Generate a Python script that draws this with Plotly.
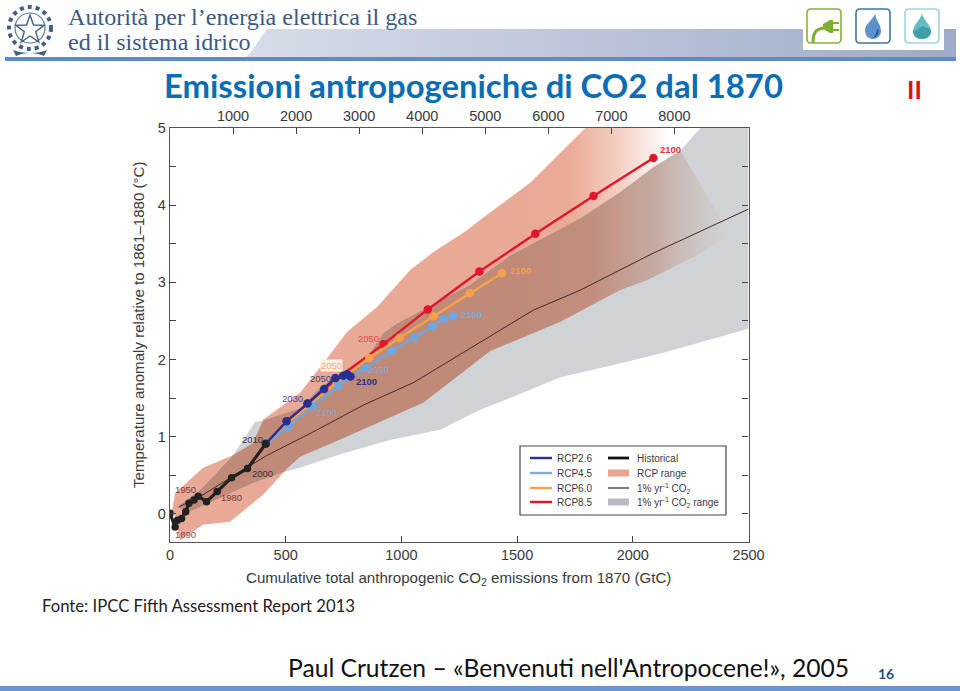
import plotly.graph_objects as go

# ---------- data (GtC, deg C) ----------
hist_x = [0, 22, 32, 50, 68, 82, 104, 122, 158, 204, 266, 335, 414]
hist_y = [0.01, -0.17, -0.08, -0.06, 0.03, 0.14, 0.18, 0.23, 0.16, 0.29, 0.47, 0.59, 0.91]
rcp26_x = [414, 504, 594, 666, 715, 748, 765, 780]
rcp26_y = [0.91, 1.20, 1.43, 1.62, 1.76, 1.79, 1.81, 1.78]
rcp45_x = [414, 511, 619, 727, 843, 959, 1057, 1135, 1182, 1225]
rcp45_y = [0.91, 1.13, 1.40, 1.66, 1.89, 2.11, 2.29, 2.43, 2.53, 2.56]
rcp60_x = [414, 505, 600, 720, 861, 992, 1139, 1295, 1435]
rcp60_y = [0.91, 1.17, 1.40, 1.70, 2.02, 2.28, 2.56, 2.86, 3.12]
rcp85_x = [414, 504, 595, 715, 923, 1114, 1337, 1579, 1830, 2089]
rcp85_y = [0.91, 1.20, 1.43, 1.74, 2.20, 2.65, 3.14, 3.63, 4.12, 4.61]
co2_x = [38, 143, 337, 420, 636, 835, 1051, 1297, 1570, 1773, 2089, 2500]
co2_y = [0.09, 0.25, 0.61, 0.76, 1.09, 1.41, 1.70, 2.15, 2.64, 2.90, 3.38, 3.95]

rcp_range_x = [9, 22, 95, 143, 272, 359, 402, 562, 649, 766, 895, 1038, 1137, 1285, 1341, 1557, 1687, 1795,
               2140, 2422, 2262, 2063, 1946, 1687, 1384, 1094, 865, 748, 562, 489, 402, 260, 143, 43, 22, 9]
rcp_range_y = [0.05, 0.27, 0.47, 0.60, 0.76, 0.92, 1.22, 1.57, 1.90, 2.36, 2.68, 3.16, 3.39, 3.68, 3.81, 4.29, 4.68, 5.0,
               5.0, 3.61, 3.33, 3.03, 2.90, 2.49, 2.11, 1.44, 1.13, 0.98, 0.74, 0.53, 0.25, -0.10, -0.14, -0.34, -0.04, 0.05]
co2_range_x = [30, 130, 281, 368, 402, 562, 649, 778, 865, 921, 982, 1297, 1471, 1773, 1946, 2089, 2206, 2292, 2500,
               2500, 2132, 1916, 1687, 1483, 1341, 1168, 951, 722, 562, 489, 359, 86, 30]
co2_range_y = [0.09, 0.31, 0.80, 1.19, 1.21, 1.37, 1.64, 1.90, 2.08, 2.34, 2.47, 2.97, 3.35, 3.83, 4.17, 4.49, 4.71, 5.0, 5.0,
               2.40, 2.09, 1.93, 1.77, 1.52, 1.35, 1.09, 0.96, 0.76, 0.60, 0.54, 0.40, 0.03, 0.09]
overlap_x = [30, 130, 272, 359, 402, 562, 649, 778, 865, 921, 982, 1297, 1471, 1773, 1946, 2089, 2206,
             2422, 2262, 2063, 1946, 1687, 1384, 1094, 865, 748, 562, 489, 359, 86, 30]
overlap_y = [0.09, 0.31, 0.76, 0.92, 1.21, 1.37, 1.64, 1.90, 2.08, 2.34, 2.47, 2.97, 3.35, 3.83, 4.17, 4.49, 4.71,
             3.61, 3.33, 3.03, 2.90, 2.49, 2.11, 1.44, 1.13, 0.98, 0.74, 0.54, 0.40, 0.03, 0.09]

year_labels = [
    ("1890", 69, -0.26, "#8a4a4a", False), ("1950", 65, 0.32, "#7a3a3a", False),
    ("1980", 264, 0.22, "#7a3a3a", False), ("2000", 398, 0.53, "#333333", False),
    ("2010", 355, 0.97, "#333333", False), ("2030", 528, 1.50, "#4a3f95", False),
    ("2050", 650, 1.76, "#4a3f7d", False),
    ("2100", 848, 1.71, "#2b2f8f", True), ("2100", 675, 1.32, "#7fa9de", False),
    ("2050", 900, 1.87, "#7fa9de", False), ("2050", 856, 2.27, "#e8464a", False),
    ("2100", 2162, 4.72, "#e3303f", True), ("2100", 1514, 3.16, "#f5a04a", True),
    ("2100", 1302, 2.58, "#7fa9de", True),
]
x_ticks = [0, 500, 1000, 1500, 2000, 2500]
y_ticks = [0, 1, 2, 3, 4, 5]
top_ticks = [1000, 2000, 3000, 4000, 5000, 6000, 7000, 8000]
legend_left = [("RCP2.6", "#2b2f8f"), ("RCP4.5", "#7fa9de"), ("RCP6.0", "#f5a04a"), ("RCP8.5", "#e3152b")]

NAVY, BLUE, ORANGE, RED, BLACK = "#2b2f8f", "#6ea6e0", "#f5a04a", "#e3152b", "#222222"
SANS = "Liberation Sans"
TXT = "#3a3a3a"

fig = go.Figure()

# ranges
fig.add_trace(go.Scatter(x=rcp_range_x, y=rcp_range_y, mode="lines", line=dict(width=0), fill="toself",
    fillgradient=dict(type="horizontal", start=1500, stop=2160,
        colorscale=[[0, "rgba(232,170,150,1)"], [0.35, "rgba(234,172,152,1)"], [0.65, "rgba(243,205,192,1)"], [1, "rgba(255,255,255,1)"]]),
    hoverinfo="skip", showlegend=False))
fig.add_trace(go.Scatter(x=co2_range_x, y=co2_range_y, mode="lines", line=dict(width=0), fill="toself",
    fillcolor="#cfd3d6", hoverinfo="skip", showlegend=False))
fig.add_trace(go.Scatter(x=overlap_x, y=overlap_y, mode="lines", line=dict(width=0), fill="toself",
    fillgradient=dict(type="horizontal", start=1500, stop=2430,
        colorscale=[[0, "rgba(192,138,120,1)"], [0.35, "rgba(192,138,122,0.94)"], [0.65, "rgba(192,146,130,0.62)"], [1, "rgba(200,180,170,0)"]]),
    hoverinfo="skip", showlegend=False))
fig.add_trace(go.Scatter(x=co2_x, y=co2_y, mode="lines", line=dict(color="#4a2a22", width=1),
    hoverinfo="skip", showlegend=False))

for xs, ys, c, name in [(rcp85_x, rcp85_y, RED, "RCP8.5"), (rcp60_x, rcp60_y, ORANGE, "RCP6.0"),
                        (rcp45_x, rcp45_y, BLUE, "RCP4.5"), (rcp26_x, rcp26_y, NAVY, "RCP2.6")]:
    fig.add_trace(go.Scatter(x=xs, y=ys, mode="lines+markers", name=name, showlegend=False,
                             line=dict(color=c, width=2.4), marker=dict(color=c, size=8.5)))
fig.add_trace(go.Scatter(x=hist_x, y=hist_y, mode="lines+markers", name="Historical", showlegend=False,
                         line=dict(color=BLACK, width=3.2), marker=dict(color=BLACK, size=7.5)))

# invisible trace so that the top axis exists
fig.add_trace(go.Scatter(x=top_ticks, y=[None] * len(top_ticks), xaxis="x2", yaxis="y", showlegend=False, hoverinfo="skip"))


def T(text, x, y, size=12, color=TXT, family=SANS, xa="left", ya="middle", **kw):
    fig.add_annotation(text=text, x=x, y=y, xref="x3", yref="y3", showarrow=False, xanchor=xa, yanchor=ya,
                       font=dict(size=size, color=color, family=family), **kw)


def P(path, fill="rgba(0,0,0,0)", line="rgba(0,0,0,0)", w=1, **kw):
    fig.add_shape(type="path", path=path, xref="x3", yref="y3", fillcolor=fill, line=dict(color=line, width=w), layer="above", **kw)


def R(x0, y0, x1, y1, fill="rgba(0,0,0,0)", line="rgba(0,0,0,0)", w=0):
    fig.add_shape(type="rect", x0=x0, y0=y0, x1=x1, y1=y1, xref="x3", yref="y3", fillcolor=fill,
                  line=dict(color=line, width=w), layer="above")


# header band with gradient (page-pixel overlay axes)
fig.add_trace(go.Scatter(x=[247, 267, 956, 956, 247], y=[57, 29, 29, 57, 57], xaxis="x3", yaxis="y3", mode="lines",
    line=dict(width=0), fill="toself", hoverinfo="skip", showlegend=False,
    fillgradient=dict(type="horizontal", start=247, stop=956, colorscale=[[0, "#d8dce8"], [1, "#9dabca"]])))
R(5, 57, 956, 61, fill="#5b8bc8")
R(803, 0, 944, 50, fill="white")
R(0, 686, 960, 691, fill="#6a96cf")

# icons
P("M 811 9 L 837 9 Q 841 9 841 13 L 841 39 Q 841 43 837 43 L 811 43 Q 807 43 807 39 L 807 13 Q 807 9 811 9 Z", fill="white", line="#84b53a", w=1.6)
P("M 813 43 C 813 32 816 29 824 28", line="#7cb02e", w=3)
P("M 823 24 L 830 20 L 833 20 L 833 33 L 830 33 L 823 29 Z", fill="#7cb02e")
R(833, 22, 839, 24, fill="#7cb02e")
R(833, 29, 839, 31, fill="#7cb02e")
P("M 860 9 L 886 9 Q 890 9 890 13 L 890 39 Q 890 43 886 43 L 860 43 Q 856 43 856 39 L 856 13 Q 856 9 860 9 Z", fill="white", line="#3f76a8", w=1.6)
P("M 875 14 C 877 22 881 25 881 31 C 881 36 877 39 873 39 C 868 39 865 35 865 30 C 865 24 872 21 875 14 Z", fill="#5d92cf")
P("M 878 28 C 880 33 877 37 873 38 C 876 35 876 32 878 28 Z", fill="#1f5f9e")
P("M 909 9 L 935 9 Q 939 9 939 13 L 939 39 Q 939 43 935 43 L 909 43 Q 905 43 905 39 L 905 13 Q 905 9 909 9 Z", fill="white", line="#9fd6dc", w=1.6)
P("M 922 14 C 925 21 931 26 931 31 C 931 36 927 39 922 39 C 917 39 913 36 913 31 C 913 26 919 21 922 14 Z", fill="#62bcc6")
P("M 922 26 C 928 28 931 29 931 31 C 931 36 927 39 922 39 C 917 39 913 36 913 31 C 915 31 919 29 922 26 Z", fill="#3f9fa9")

# emblem
fig.add_shape(type="circle", x0=9, y0=7, x1=51, y1=49, xref="x3", yref="y3", line=dict(color="#3f5f85", width=4, dash="dot"), layer="above")
fig.add_shape(type="circle", x0=15, y0=13, x1=45, y1=43, xref="x3", yref="y3", line=dict(color="#5f7a9c", width=1.2), layer="above")
P("M 30 15 L 33.5 25 L 44 25.4 L 35.7 31.8 L 38.8 42 L 30 36 L 21.2 42 L 24.3 31.8 L 16 25.4 L 26.5 25 Z", line="#3f5f85", w=1.4)
P("M 13 50 C 22 54 38 54 47 50 L 44 56 C 36 52 24 52 16 56 Z", fill="#3f5f85")

T("Autorità per l’energia elettrica il gas", 66, 17, size=24.1, color="#3a5a85", family="Liberation Serif")
T("ed il sistema idrico", 66, 42, size=24.1, color="#3a5a85", family="Liberation Serif")
T("<b>Emissioni antropogeniche di CO2 dal 1870</b>", 162, 85.5, size=32.85, color="#0b6db5", family="Lato")
T("<b>II</b>", 914, 89, size=25, color="#e01010", family="Lato", xa="center")
T("Fonte: IPCC Fifth Assessment Report 2013", 40, 606, size=16.7, color="#222222", family="Lato")
T("Paul Crutzen – «Benvenuti nell'Antropocene!», 2005", 286, 667, size=24.65, color="#111111", family="Lato")
T("<b>16</b>", 886, 673, size=14, color="#1f4e80", family="Lato", xa="center")

# axis titles placed exactly
T("Cumulative total anthropogenic CO<sub>2</sub> emissions from 1870 (GtC)", 458, 578, size=15.1, xa="center")
T("Temperature anomaly relative to 1861–1880 (°C)", 138, 325, size=15.1, xa="center", textangle=-90)

# year labels
for txt, x, y, c, bold in year_labels:
    fig.add_annotation(text=f"<b>{txt}</b>" if bold else txt, x=x, y=y, xref="x", yref="y", showarrow=False,
                       font=dict(size=9.5, color=c, family=SANS))
# the boxed 2050 label of RCP6.0
fig.add_annotation(text="2050", x=700, y=1.93, xref="x", yref="y", showarrow=False, bgcolor="#fdf1e4", borderpad=0,
                   font=dict(size=9.5, color="#f7a868", family=SANS))

# legend drawn as in the figure
R(520, 446, 726, 515, fill="white", line="#444444", w=1.2)
rows = [458, 473, 488, 502]
for (name, col), yy in zip(legend_left, rows):
    fig.add_shape(type="line", x0=530, x1=552, y0=yy, y1=yy, xref="x3", yref="y3", line=dict(color=col, width=2.4), layer="above")
    T(name, 555, yy, size=10)
fig.add_shape(type="line", x0=608, x1=629, y0=rows[0], y1=rows[0], xref="x3", yref="y3", line=dict(color="#111111", width=2.8), layer="above")
T("Historical", 635, rows[0], size=10)
R(608, rows[1] - 3.5, 629, rows[1] + 3.5, fill="#e9a48e")
T("RCP range", 635, rows[1], size=10)
fig.add_shape(type="line", x0=608, x1=629, y0=rows[2], y1=rows[2], xref="x3", yref="y3", line=dict(color="#222222", width=1.2), layer="above")
T("1% yr<sup>-1</sup> CO<sub>2</sub>", 635, rows[2], size=10)
R(608, rows[3] - 3.5, 629, rows[3] + 3.5, fill="#b9bbc0")
T("1% yr<sup>-1</sup> CO<sub>2</sub> range", 635, rows[3], size=10)

axis_common = dict(showgrid=False, zeroline=False, showline=True, linecolor="#555555", linewidth=1.4,
                   ticks="inside", ticklen=6, tickwidth=1.2, tickcolor="#444444", automargin=False,
                   tickfont=dict(family=SANS, size=14.5, color=TXT))
W, H = 960, 691
fig.update_layout(
    width=W, height=H, margin=dict(l=0, r=0, t=0, b=0), paper_bgcolor="white", plot_bgcolor="rgba(0,0,0,0)",
    showlegend=False, hovermode=False,
    xaxis=dict(domain=[170 / W, 748.5 / W], range=[0, 2500], tickvals=x_ticks, mirror=True, anchor="y", **axis_common),
    xaxis2=dict(overlaying="x", side="top", anchor="y", range=[0, 2500 * 3.67], tickvals=top_ticks, **axis_common),
    yaxis=dict(domain=[(H - 541.7) / H, (H - 128) / H], range=[-0.359, 5], tickvals=y_ticks, mirror="ticks",
               minor=dict(ticks="inside", ticklen=6, tickwidth=1.2, tickcolor="#444444", dtick=0.5, tick0=0),
               anchor="x", **axis_common),
    xaxis3=dict(domain=[0, 1], range=[0, W], visible=False, anchor="y3", fixedrange=True, automargin=False),
    yaxis3=dict(domain=[0, 1], range=[H, 0], visible=False, anchor="x3", fixedrange=True, automargin=False),
)
fig.write_html("out.html", config={"displayModeBar": False},
               post_script="document.body.style.margin='0';document.documentElement.style.overflow='hidden';")
